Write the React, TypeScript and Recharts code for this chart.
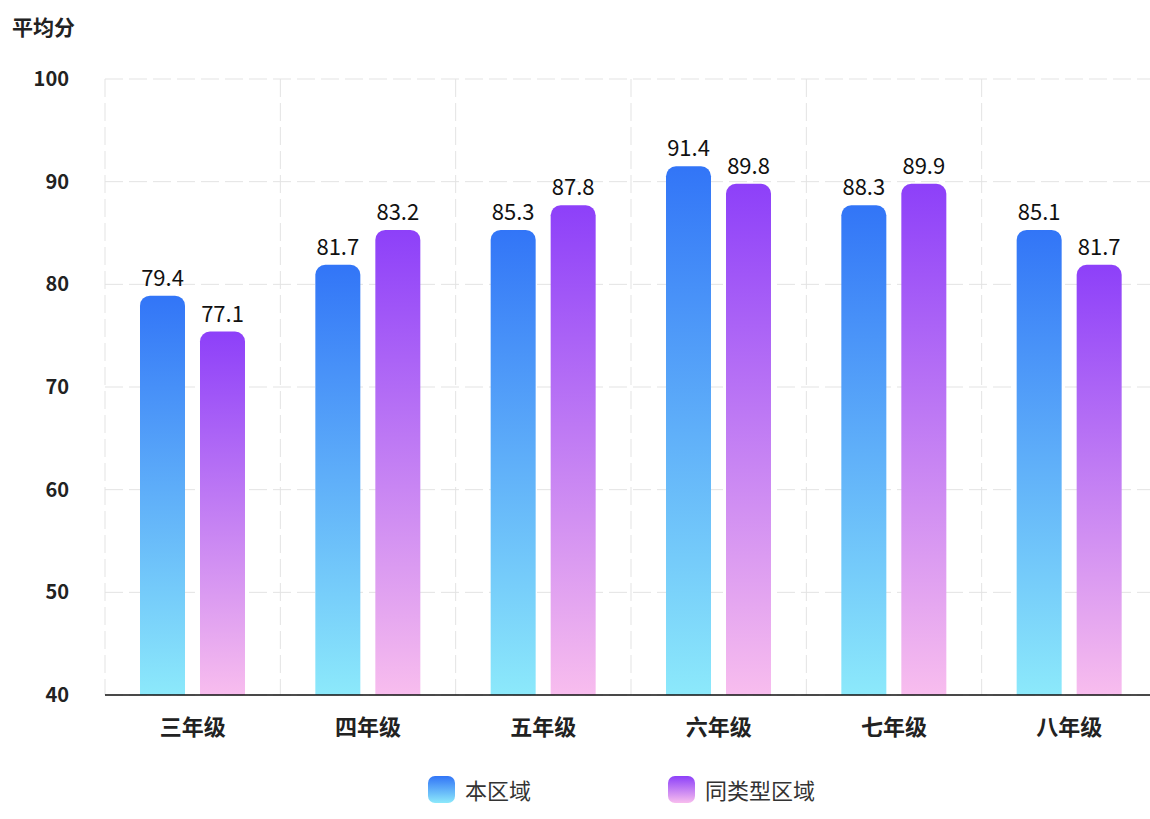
import React from "react";
import { BarChart, Bar, XAxis, YAxis, CartesianGrid, LabelList } from "recharts";

// grades on the x axis
const grades = ["三年级", "四年级", "五年级", "六年级", "七年级", "八年级"];

// bar heights as drawn in the picture
const localValues = [78.9, 81.9, 85.3, 91.5, 87.7, 85.3];
const similarValues = [75.4, 85.3, 87.7, 89.8, 89.8, 81.9];

// value labels printed above the bars
const localLabels = ["79.4", "81.7", "85.3", "91.4", "88.3", "85.1"];
const similarLabels = ["77.1", "83.2", "87.8", "89.8", "89.9", "81.7"];

const yTicks = [40, 50, 60, 70, 80, 90, 100];

const data = grades.map((g, i) => ({
  grade: g,
  local: localValues[i],
  similar: similarValues[i],
}));

const FONT = "'Noto Sans CJK SC', 'Noto Sans', sans-serif";

const makeLabel = (labels: string[]) => (props: any) => {
  const { x, y, width, index } = props;
  return (
    <text
      x={Number(x) + Number(width) / 2}
      y={Number(y) - 10}
      textAnchor="middle"
      fill="#111"
      fontSize={22}
      fontFamily={FONT}
    >
      {labels[index]}
    </text>
  );
};

const App = () => {
  const W = 1150;
  const H = 819;
  const CHART_W = 1157;

  // vertical grid lines at the category boundaries (no line at the right edge)
  const verticalLines = ({ offset }: any) => {
    const step = offset.width / grades.length;
    return grades.map((_, i) => offset.left + step * i);
  };

  return (
    <div style={{ position: "absolute", left: 0, top: 0, width: W, height: H, overflow: "hidden", background: "#fff", fontFamily: FONT }}>
      <div style={{ position: "absolute", left: 12, top: 11, fontSize: 21, fontWeight: 700, color: "#222" }}>
        平均分
      </div>
      <BarChart
        width={CHART_W}
        height={H}
        data={data}
        margin={{ top: 79, right: 0, left: 0, bottom: 64 }}
        barSize={45}
        barGap={15}
      >
        <defs>
          <linearGradient id="gLocal" x1="0" y1="0" x2="0" y2="1">
            <stop offset="0%" stopColor="#3275f7" />
            <stop offset="100%" stopColor="#8ce9fb" />
          </linearGradient>
          <linearGradient id="gSimilar" x1="0" y1="0" x2="0" y2="1">
            <stop offset="0%" stopColor="#8d40f9" />
            <stop offset="100%" stopColor="#f8bdee" />
          </linearGradient>
        </defs>
        <CartesianGrid
          stroke="#e3e3e3"
          strokeDasharray="18 6"
          verticalCoordinatesGenerator={verticalLines}
        />
        <XAxis
          dataKey="grade"
          axisLine={{ stroke: "#111", strokeWidth: 1.5 }}
          tickLine={false}
          height={60}
          tick={{ fill: "#222", fontSize: 22, fontWeight: 700, fontFamily: FONT, dy: 16 }}
        />
        <YAxis
          width={105}
          domain={[40, 100]}
          ticks={yTicks}
          axisLine={false}
          tickLine={false}
          tickMargin={30}
          allowDataOverflow
          tick={{ fill: "#222", fontSize: 20, fontWeight: 700, fontFamily: FONT }}
        />
        <Bar dataKey="local" fill="url(#gLocal)" radius={[10, 10, 0, 0]} isAnimationActive={false}>
          <LabelList dataKey="local" content={makeLabel(localLabels)} />
        </Bar>
        <Bar dataKey="similar" fill="url(#gSimilar)" radius={[10, 10, 0, 0]} isAnimationActive={false}>
          <LabelList dataKey="similar" content={makeLabel(similarLabels)} />
        </Bar>
      </BarChart>
      <div
        style={{
          position: "absolute",
          top: 773,
          left: 428,
          display: "flex",
          alignItems: "center",
          fontSize: 22,
          color: "#333",
        }}
      >
        <span style={{ width: 27, height: 27, borderRadius: 7, background: "linear-gradient(#3275f7, #8ce9fb)", display: "inline-block" }} />
        <span style={{ marginLeft: 10 }}>本区域</span>
        <span style={{ width: 27, height: 27, borderRadius: 7, background: "linear-gradient(#8d40f9, #f8bdee)", display: "inline-block", marginLeft: 137 }} />
        <span style={{ marginLeft: 10 }}>同类型区域</span>
      </div>
    </div>
  );
};

export default App;
